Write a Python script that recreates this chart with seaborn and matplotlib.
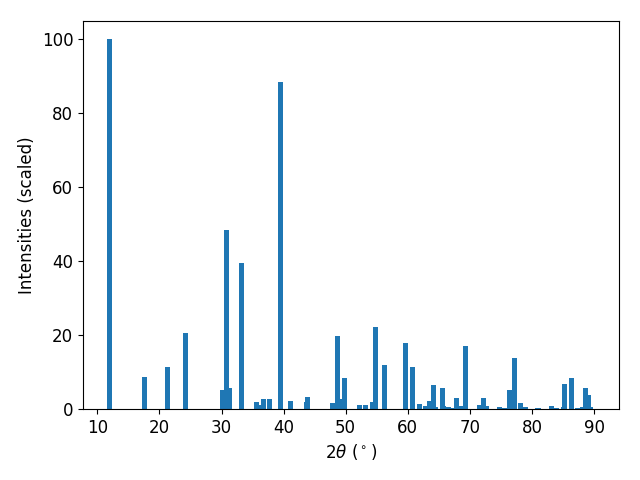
import numpy as np
import pandas as pd
import matplotlib
matplotlib.use("Agg")
import matplotlib.pyplot as plt
import seaborn as sns

# Peak positions (2theta, degrees) and scaled intensities
two_theta = [11.92, 17.60, 21.30, 24.20, 30.16, 30.81, 31.29, 33.22, 35.64, 36.44,
             36.83, 37.73, 39.50, 41.11, 43.69, 43.85, 47.87, 48.68, 49.48, 49.81,
             52.22, 53.19, 54.32, 54.80, 56.25, 59.63, 60.76, 61.88, 62.85, 63.49,
             64.14, 64.46, 65.60, 65.76, 66.55, 67.36, 67.78, 68.42, 69.27, 71.55,
             72.19, 72.67, 74.75, 75.56, 76.38, 77.18, 78.10, 78.91, 80.89, 81.05,
             83.09, 83.94, 85.03, 85.19, 86.31, 87.33, 88.14, 88.57, 89.05, 89.37]
intensity = [100.0, 8.6, 11.3, 20.5, 5.1, 48.5, 5.6, 39.5, 1.8, 1.0,
             2.6, 2.6, 88.6, 2.1, 1.8, 3.2, 1.6, 19.7, 2.6, 8.4,
             1.1, 1.1, 1.9, 22.2, 11.9, 17.9, 11.4, 1.3, 0.8, 2.2,
             6.5, 0.5, 5.7, 0.8, 0.6, 0.3, 3.0, 0.8, 17.0, 1.1,
             3.0, 0.8, 0.6, 0.3, 5.2, 13.8, 1.6, 0.6, 0.3, 0.3,
             0.8, 0.3, 0.6, 6.7, 8.4, 0.3, 0.6, 5.7, 3.8, 0.6]

df = pd.DataFrame({"two_theta": two_theta, "intensity": intensity})

plt.rcParams["font.size"] = 12

fig, ax = plt.subplots(figsize=(6.4, 4.8), dpi=100)
fig.subplots_adjust(left=83 / 640, right=619 / 640, top=1 - 21 / 480, bottom=1 - 409 / 480)

bar_width_units = 0.8
min_gap = np.nanmin(np.diff(np.unique(df["two_theta"].astype(float))))
sns.barplot(data=df, x="two_theta", y="intensity", native_scale=True,
            width=bar_width_units / min_gap, color="#1f77b4", saturation=1,
            errorbar=None, linewidth=0, edgecolor="none", ax=ax)

ax.set_xlim(7.7, 94.0)
ax.set_ylim(0, 105)
ax.set_xticks(range(10, 100, 10))
ax.set_yticks(range(0, 101, 20))
ax.set_xlabel(r"$2\theta$ ($^\circ$)")
ax.set_ylabel("Intensities (scaled)")

fig.savefig("out.png", dpi=100)
